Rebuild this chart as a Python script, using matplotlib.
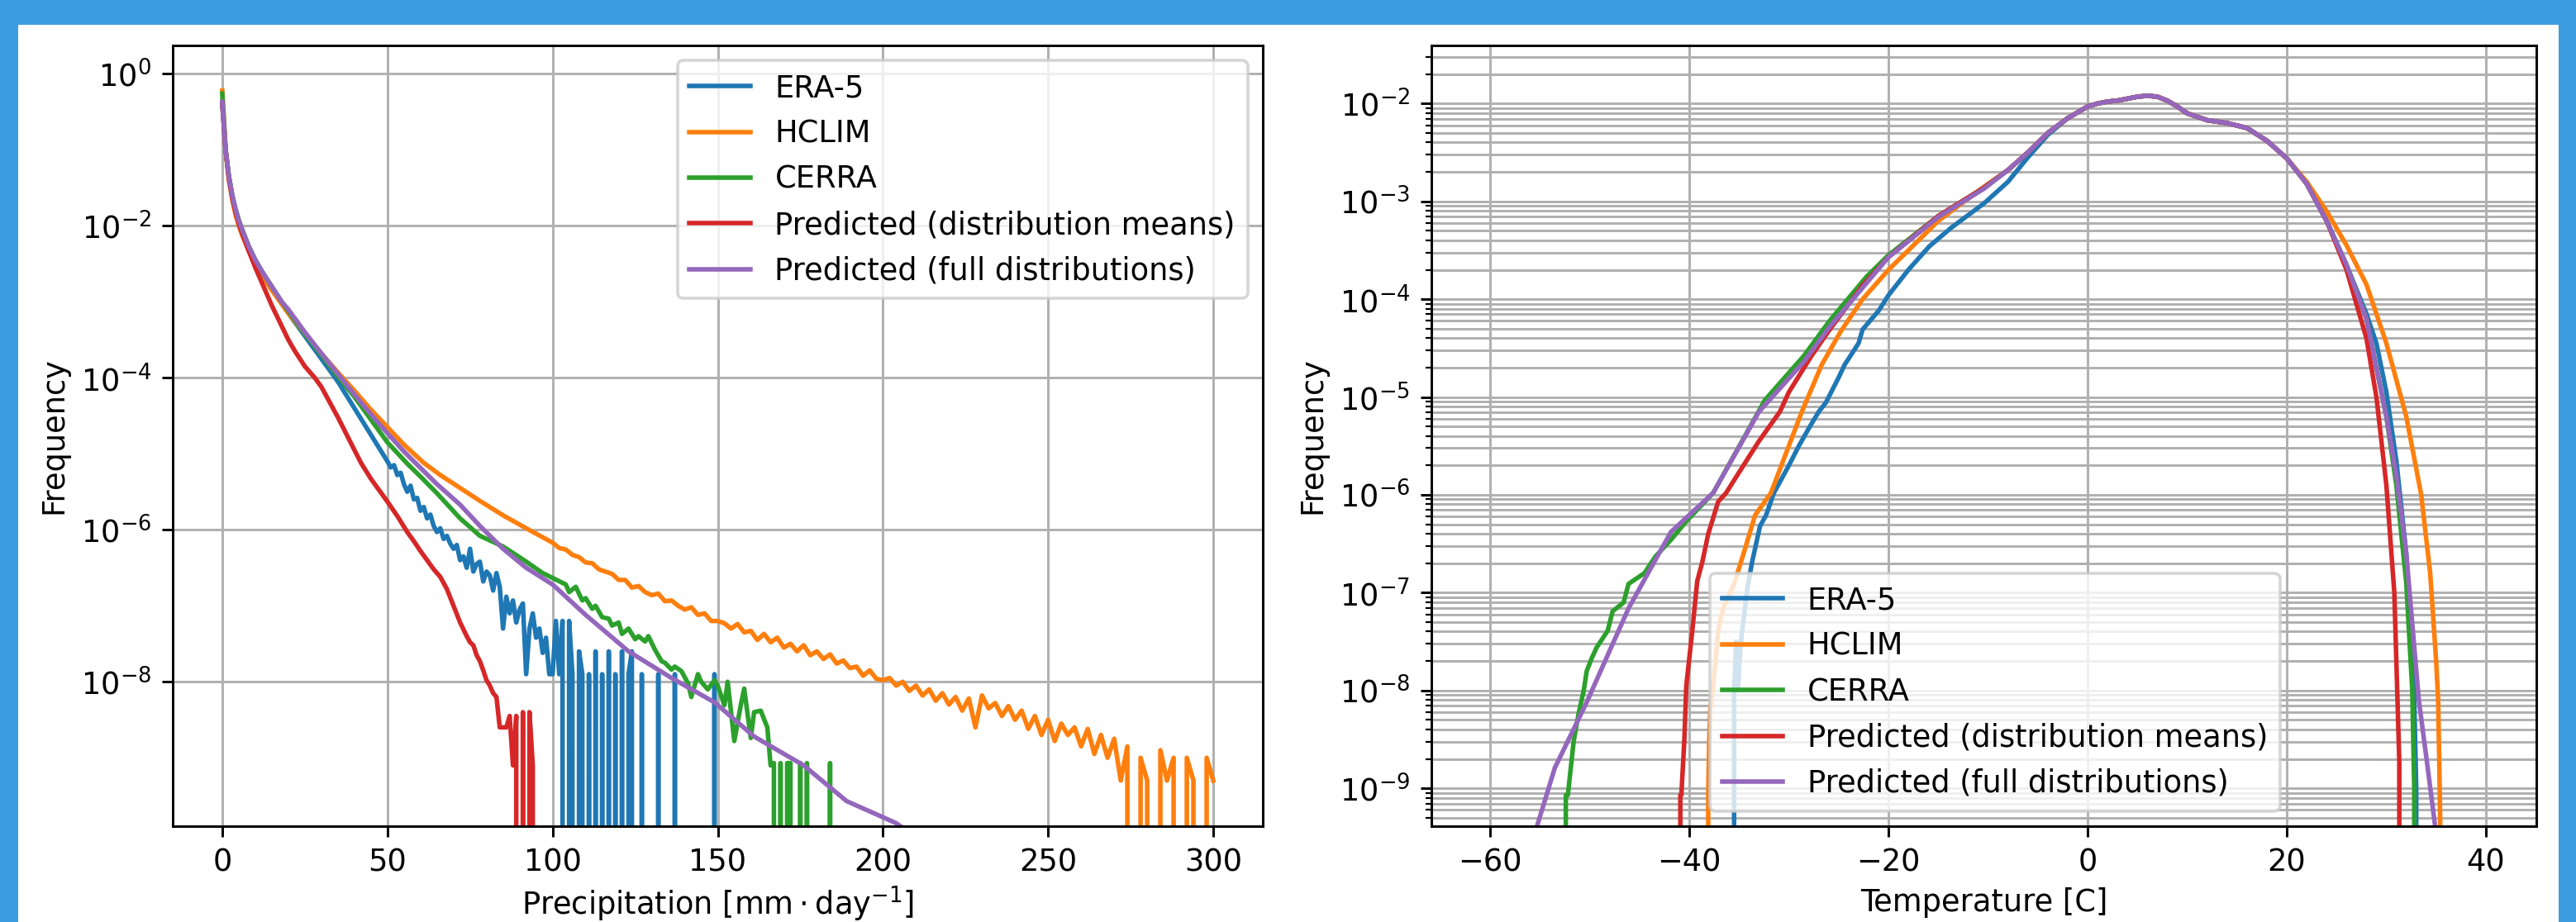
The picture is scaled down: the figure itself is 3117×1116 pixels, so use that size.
import numpy as np
import matplotlib
matplotlib.use("Agg")
import matplotlib.pyplot as plt
from matplotlib.patches import Rectangle

Z = None  # empty bin (zero frequency)

# ---------------- Precipitation (left panel), log10 frequency ----------------
era_p_x = [0, 1, 2, 3, 4, 5, 6, 8, 10, 12, 15, 18, 20, 25, 30, 35, 40, 45,
           50, 51, 52, 53, 54, 55, 56, 57, 58, 59, 60, 61, 62, 63, 64, 65, 66, 67, 68, 69,
           70, 71, 72, 73, 74, 75, 76, 77, 78, 79, 80, 81, 82, 83, 84, 85, 86, 87, 88, 89,
           90, 91, 92, 93, 94, 95, 96, 97, 98, 99, 100, 101, 102, 103, 104, 105, 106, 107,
           108, 109, 110, 111, 112, 113, 114, 115, 116, 117, 118, 119, 120, 121, 122, 123,
           124, 125, 126, 127, 128, 131, 132, 133, 136, 137, 138, 148, 149, 150]
era_p_lg = [-0.40, -1.00, -1.35, -1.60, -1.78, -1.93, -2.05, -2.27, -2.45, -2.60, -2.82, -3.02,
            -3.15, -3.45, -3.75, -4.05, -4.40, -4.75,
            -5.10, -5.18, -5.15, -5.28, -5.25, -5.40, -5.50, -5.42, -5.60, -5.58, -5.75, -5.70,
            -5.85, -5.80, -5.95, -6.03, -5.98, -6.12, -6.08, -6.18, -6.25, -6.20, -6.40, -6.35,
            -6.50, -6.25, -6.55, -6.45, -6.42, -6.68, -6.55, -6.60, -6.80, -6.57, -6.75, -7.30,
            -6.88, -7.10, -6.93, -7.22, -7.05, -6.97, -7.90, -7.30, -7.10, -7.42, -7.30, -7.62,
            -7.42, -7.90, -7.90, -7.20, -7.90, -7.20, Z, -7.20, -7.90, Z,
            -7.60, -7.90, Z, -7.90, Z, -7.60, Z, -7.90, Z, -7.60, Z, -7.90, Z, -7.60, Z, -7.90,
            -7.60, Z, Z, -7.90, Z, Z, -7.90, Z, Z, -7.90, Z, Z, -7.90, Z]

hclim_p_x = [0, 1, 2, 3, 4, 5, 6, 8, 10, 12, 15, 18, 20, 25, 30, 35, 40, 45, 50, 55,
             61, 66, 72, 78, 85, 92,
             100, 102, 104, 106, 108, 110, 112, 114, 116, 118, 120, 122, 124, 126, 128, 130,
             132, 134, 136, 138, 140, 142, 144, 146, 148, 150, 152, 154, 156, 158, 160, 162,
             164, 166, 168, 170, 172, 174, 176, 178, 180, 182, 184, 186, 188, 190, 192, 194,
             196, 198, 200, 202, 204, 206, 208, 210, 212, 214, 216, 218, 220, 222, 224, 226,
             228, 230, 232, 234, 236, 238, 240, 242, 244, 246, 248, 250, 252, 254, 256, 258,
             260, 262, 264, 266, 268, 270, 272, 274, 276, 278, 280, 282, 284, 286, 288, 290,
             292, 294, 296, 298, 300]
hclim_p_lg = [-0.22, -1.00, -1.40, -1.65, -1.85, -2.00, -2.12, -2.33, -2.50, -2.65, -2.85, -3.03,
              -3.15, -3.42, -3.68, -3.93, -4.17, -4.42, -4.65, -4.88,
              -5.12, -5.28, -5.45, -5.62, -5.81, -5.98,
              -6.17, -6.24, -6.26, -6.33, -6.36, -6.43, -6.44, -6.52, -6.55, -6.58, -6.66, -6.66,
              -6.76, -6.74, -6.82, -6.86, -6.84, -6.94, -6.93, -7.00, -7.05, -7.02, -7.12, -7.10,
              -7.20, -7.20, -7.23, -7.30, -7.24, -7.35, -7.33, -7.45, -7.37, -7.48, -7.42, -7.55,
              -7.50, -7.60, -7.52, -7.65, -7.60, -7.70, -7.64, -7.76, -7.72, -7.82, -7.80, -7.92,
              -7.85, -7.96, -7.98, -7.95, -8.05, -8.00, -8.12, -8.05, -8.18, -8.10, -8.25, -8.15,
              -8.30, -8.20, -8.38, -8.22, -8.60, -8.18, -8.35, -8.28, -8.45, -8.32, -8.50, -8.38,
              -8.62, -8.45, -8.70, -8.50, -8.78, -8.55, -8.70, -8.60, -8.85, -8.62, -8.95, -8.70,
              -9.00, -8.75, -9.30, -8.85, Z, -9.00, -9.30, Z, -8.90, -9.30, -9.00, Z,
              -9.00, -9.30, Z, -9.00, -9.30]

cerra_p_x = [0, 1, 2, 3, 4, 5, 6, 8, 10, 12, 15, 18, 20, 25, 30, 35, 40, 45, 50, 56, 60, 65,
             72, 78, 85, 91, 97, 104, 105, 107, 109, 110, 112, 113, 115, 117, 118, 120, 121,
             123, 125, 126, 128, 129, 131, 133, 134, 136, 137, 139, 141, 142, 144, 145, 147,
             149, 150, 152, 153, 155, 157, 158, 160, 161, 163, 165, 166, 167, 168, 169, 170,
             171, 172, 173, 174, 175, 176, 177, 178, 179, 183, 184, 185]
cerra_p_lg = [-0.26, -1.00, -1.35, -1.60, -1.78, -1.93, -2.05, -2.27, -2.45, -2.60, -2.80, -3.00,
              -3.12, -3.42, -3.70, -3.98, -4.25, -4.55, -4.85, -5.13, -5.30, -5.52,
              -5.85, -6.08, -6.22, -6.39, -6.57, -6.72, -6.82, -6.75, -6.93, -6.90, -7.04, -7.00,
              -7.15, -7.17, -7.26, -7.22, -7.37, -7.30, -7.44, -7.40, -7.47, -7.40, -7.58, -7.73,
              -7.75, -7.84, -7.80, -7.86, -8.02, -8.20, -7.90, -8.00, -8.10, -7.98, -8.05, -8.31,
              -8.00, -8.78, -8.30, -8.09, -8.74, -8.40, -8.38, -8.60, -9.10, -9.07, Z, -9.07,
              Z, -9.07, -9.07, Z, Z, -9.07, Z, -9.07, Z, Z, Z, -9.07, Z]

predm_p_x = [0, 1, 2, 3, 4, 5, 6, 8, 10, 12, 15, 18, 20, 22, 25, 28, 30, 35, 40, 42, 45, 50,
             53, 56, 58, 60, 62, 64, 66, 68, 70, 72, 74, 75, 76, 77, 78, 79, 80, 81, 82, 83,
             84, 85, 86, 87, 88, 89, 90, 91, 92, 93, 94, 95]
predm_p_lg = [-0.40, -1.00, -1.38, -1.63, -1.82, -1.97, -2.10, -2.33, -2.55, -2.75, -3.05,
              -3.32, -3.50, -3.65, -3.85, -4.00, -4.12, -4.52, -4.95, -5.12, -5.33, -5.63,
              -5.82, -6.03, -6.15, -6.28, -6.40, -6.52, -6.62, -6.78, -7.00, -7.22, -7.40,
              -7.48, -7.52, -7.65, -7.73, -7.85, -7.98, -8.05, -8.15, -8.20, -8.60, -8.60,
              -8.60, -8.45, -9.10, -8.45, Z, -8.40, Z, -8.40, -9.10, Z]

predf_p_x = [0, 1, 2, 3, 4, 5, 6, 8, 10, 12, 15, 18, 20, 25, 30, 35, 40, 45, 50, 55, 58,
             65, 72, 78, 85, 92, 100, 110, 123, 136, 149, 161, 176, 189, 204, 215]
predf_p_lg = [-0.37, -1.00, -1.35, -1.60, -1.78, -1.93, -2.05, -2.27, -2.45, -2.60, -2.80,
              -3.00, -3.10, -3.40, -3.68, -3.95, -4.22, -4.48, -4.73, -4.97, -5.10,
              -5.40, -5.67, -5.95, -6.25, -6.50, -6.72, -7.12, -7.60, -7.95, -8.27, -8.72,
              -9.10, -9.57, -9.86, -10.2]

# ---------------- Temperature (right panel), log10 frequency ----------------
era_t_x = [-35.6, -35.5, -35.3, -35.1, -34.9, -34.7, -34.4, -34.2, -33.7, -32.9, -32.3, -31.5,
           -30, -29, -28, -27, -26.3, -25, -24.4, -23, -22.6, -21, -20, -18, -15.9, -13.7,
           -10.4, -8, -6, -4, -2, 0, 1, 2, 3, 4, 5, 6, 7, 8, 9, 10, 12, 14, 16, 18, 20, 22,
           24, 26, 28, 29, 30, 31, 32, 32.5, 32.8, 33.0, 33.1]
era_t_lg = [Z, -8.0, -7.5, -8.0, -7.6, -7.39, -7.16, -6.97, -6.69, -6.32, -6.21, -5.98,
            -5.70, -5.50, -5.32, -5.15, -5.06, -4.80, -4.67, -4.45, -4.31, -4.12, -3.96, -3.70,
            -3.46, -3.27, -3.02, -2.80, -2.55, -2.32, -2.15, -2.03, -2.00, -1.98, -1.97, -1.95,
            -1.93, -1.92, -1.93, -1.97, -2.03, -2.10, -2.17, -2.20, -2.25, -2.38, -2.56, -2.82,
            -3.20, -3.65, -4.15, -4.45, -4.95, -5.65, -6.60, -7.40, -8.10, -9.00, Z]

hclim_t_x = [-38.2, -38.1, -38.0, -37.9, -37.6, -37.1, -36.6, -35.5, -34.4, -33.4, -31.8,
             -28.7, -26.7, -24.8, -22.6, -20, -15, -10.4, -8, -6, -4, -2, 0, 1, 2, 3, 4, 5,
             6, 7, 8, 9, 10, 12, 14, 16, 18, 20, 22, 24, 26, 28, 30, 32, 33.5, 34.4, 35.0,
             35.2, 35.3, 35.4, 35.45]
hclim_t_lg = [Z, -9.07, -8.51, -8.20, -7.95, -7.39, -7.16, -6.91, -6.55, -6.21, -5.98,
              -5.15, -4.67, -4.33, -4.00, -3.70, -3.20, -2.85, -2.68, -2.50, -2.30, -2.15,
              -2.03, -2.00, -1.98, -1.97, -1.95, -1.93, -1.92, -1.93, -1.97, -2.03, -2.10,
              -2.17, -2.20, -2.25, -2.38, -2.56, -2.80, -3.10, -3.45, -3.85, -4.45, -5.20,
              -6.00, -6.80, -7.70, -8.10, -8.65, -9.30, Z]

cerra_t_x = [-52.5, -52.4, -52.2, -51.9, -51.6, -51.1, -50.6, -50.3, -49.8, -49.3, -48.2,
             -47.7, -46.6, -46.1, -44.5, -43.4, -41.85, -40.3, -37.6, -32.4, -28.5, -25.9,
             -22.2, -20, -15, -10.4, -8, -6, -4, -2, 0, 1, 2, 3, 4, 5, 6, 7, 8, 9, 10, 12, 14,
             16, 18, 20, 22, 24, 26, 28, 30, 31, 32, 32.6, 32.8, 32.9]
cerra_t_lg = [Z, -9.07, -9.07, -8.79, -8.51, -8.23, -8.00, -7.80, -7.67, -7.56, -7.39,
              -7.19, -7.10, -6.91, -6.80, -6.63, -6.46, -6.27, -5.98, -5.03, -4.58, -4.22,
              -3.77, -3.55, -3.15, -2.86, -2.68, -2.50, -2.30, -2.15, -2.03, -2.00, -1.98,
              -1.97, -1.95, -1.93, -1.92, -1.93, -1.97, -2.03, -2.10, -2.17, -2.20, -2.25,
              -2.38, -2.56, -2.82, -3.20, -3.65, -4.20, -5.20, -5.90, -6.90, -8.00, -9.00, Z]

predm_t_x = [-41.0, -40.9, -40.8, -40.5, -40.3, -39.7, -39.2, -38.7, -38.1, -37.1, -36.3,
             -35.5, -33, -30.9, -30, -27.8, -25.9, -22.6, -20, -15, -10.4, -8, -6, -4, -2, 0,
             1, 2, 3, 4, 5, 6, 7, 8, 9, 10, 12, 14, 16, 18, 20, 22, 24, 26, 28, 29, 30,
             30.8, 31.3, 31.45]
predm_t_lg = [Z, -9.07, -9.07, -8.51, -7.95, -7.39, -6.88, -6.69, -6.40, -6.07, -5.98,
              -5.85, -5.45, -5.15, -4.95, -4.59, -4.31, -3.86, -3.57, -3.15, -2.86, -2.68,
              -2.50, -2.30, -2.15, -2.03, -2.00, -1.98, -1.97, -1.95, -1.93, -1.92, -1.93,
              -1.97, -2.03, -2.10, -2.17, -2.20, -2.25, -2.38, -2.56, -2.82, -3.20, -3.70,
              -4.40, -5.00, -5.90, -7.00, -8.73, Z]

predf_t_x = [-56, -55.3, -53.5, -50.3, -46.1, -41.85, -37.6, -33, -28.5, -25.9, -20, -15,
             -10.4, -8, -6, -4, -2, 0, 1, 2, 3, 4, 5, 6, 7, 8, 9, 10, 12, 14, 16, 18, 20, 22,
             24, 26, 28, 30, 31, 32, 33.25, 34.1, 34.9, 35.2]
predf_t_lg = [-9.55, -9.39, -8.79, -8.12, -7.16, -6.38, -5.98, -5.15, -4.64, -4.28, -3.57,
              -3.16, -2.87, -2.68, -2.50, -2.30, -2.15, -2.03, -2.00, -1.98, -1.97, -1.95,
              -1.93, -1.92, -1.93, -1.97, -2.03, -2.10, -2.17, -2.20, -2.25, -2.38, -2.56,
              -2.82, -3.20, -3.65, -4.20, -5.20, -5.80, -6.60, -8.09, -8.75, -9.39, -9.70]

labels = ["ERA-5", "HCLIM", "CERRA", "Predicted (distribution means)",
          "Predicted (full distributions)"]
colors = ["#1f77b4", "#ff7f0e", "#2ca02c", "#d62728", "#9467bd"]


def to_freq(lg):
    return np.array([0.0 if v is None else 10.0 ** v for v in lg])


W, H, DPI = 3117, 1116, 265
plt.rcParams["font.size"] = 10
fig = plt.figure(figsize=(W / DPI, H / DPI), dpi=DPI, facecolor="#3b9ce0")
fig.patches.append(Rectangle((22 / W, 0), (W - 22 - 21) / W, (H - 30) / H,
                             transform=fig.transFigure, facecolor="white",
                             edgecolor="none", zorder=-10))

top = 1 - 55 / H
bot = 1 - 1000 / H
ax1 = fig.add_axes([209 / W, bot, (1528 - 209) / W, top - bot])
ax2 = fig.add_axes([1732 / W, bot, (3069 - 1732) / W, top - bot])

p_sets = [(era_p_x, era_p_lg), (hclim_p_x, hclim_p_lg), (cerra_p_x, cerra_p_lg),
          (predm_p_x, predm_p_lg), (predf_p_x, predf_p_lg)]
t_sets = [(era_t_x, era_t_lg), (hclim_t_x, hclim_t_lg), (cerra_t_x, cerra_t_lg),
          (predm_t_x, predm_t_lg), (predf_t_x, predf_t_lg)]

for (x, lg), lab, c in zip(p_sets, labels, colors):
    ax1.plot(x, to_freq(lg), color=c, label=lab, lw=1.5)
ax1.set_yscale("log")
ax1.set_xlim(-15, 315)
ax1.set_ylim(10 ** -9.9, 10 ** 0.373)
ax1.grid(True)
ax1.set_xlabel(r"Precipitation [$\mathrm{mm} \cdot \mathrm{day}^{-1}$]", labelpad=2)
ax1.set_ylabel("Frequency")
ax1.legend(loc="upper right")

for (x, lg), lab, c in zip(t_sets, labels, colors):
    ax2.plot(x, to_freq(lg), color=c, label=lab, lw=1.5)
ax2.set_yscale("log")
ax2.set_xlim(-65.9, 45.06)
ax2.set_ylim(10 ** -9.387, 10 ** -1.406)
ax2.grid(True, which="both")
ax2.set_xlabel("Temperature [C]", labelpad=3)
ax2.set_ylabel("Frequency")
ax2.legend(loc="lower center", bbox_to_anchor=(0.51, 0.0))

fig.savefig("out.png", dpi=DPI, facecolor=fig.get_facecolor())
